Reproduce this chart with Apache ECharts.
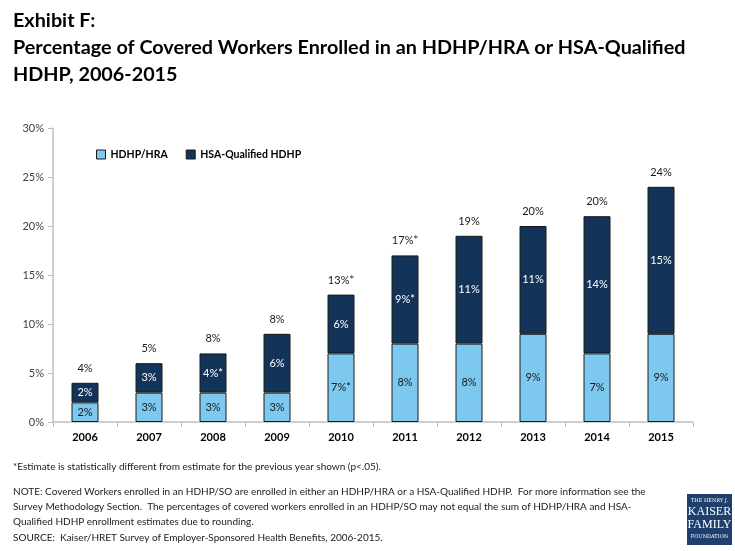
<!DOCTYPE html>
<html>
<head>
<meta charset="utf-8">
<script src="https://cdn.jsdelivr.net/npm/echarts@6/dist/echarts.min.js"></script>
<style>
  html, body { margin: 0; padding: 0; background: #fff; }
  #chart { width: 735px; height: 551px; }
</style>
</head>
<body>
<div id="chart"></div>
<script>
// Data read from the exhibit
const years = ['2006', '2007', '2008', '2009', '2010', '2011', '2012', '2013', '2014', '2015'];
const hdhpHra = [2, 3, 3, 3, 7, 8, 8, 9, 7, 9];
const hsaQualified = [2, 3, 4, 6, 6, 9, 11, 11, 14, 15];
const hdhpHraLabels = ['2%', '3%', '3%', '3%', '7%*', '8%', '8%', '9%', '7%', '9%'];
const hsaLabels = ['2%', '3%', '4%*', '6%', '6%', '9%*', '11%', '11%', '14%', '15%'];
const totalLabels = ['4%', '5%', '8%', '8%', '13%*', '17%*', '19%', '20%', '20%', '24%'];
const yTicks = [0, 5, 10, 15, 20, 25, 30];

const FONT = 'Lato, "Open Sans", sans-serif';
const LIGHT = '#7DC8EE';
const NAVY = '#133459';
const AXIS = '#BFBFBF';

const chart = echarts.init(document.getElementById('chart'));

chart.setOption({
  animation: false,
  textStyle: { fontFamily: FONT },
  title: [
    {
      text: 'Exhibit F:\nPercentage of Covered Workers Enrolled in an HDHP/HRA or HSA-Qualified\nHDHP, 2006-2015',
      left: 8,
      top: 2,
      textStyle: { fontSize: 19.8, fontWeight: 'bold', color: '#000', lineHeight: 27, fontFamily: FONT }
    },
    {
      text: '*Estimate is statistically different from estimate for the previous year shown (p<.05).',
      left: 8,
      top: 457,
      textStyle: { fontSize: 10, fontWeight: 'normal', color: '#1a1a1a', fontFamily: FONT }
    },
    {
      text: 'NOTE: Covered Workers enrolled in an HDHP/SO are enrolled in either an HDHP/HRA or a HSA-Qualified HDHP.  For more information see the\n' +
        'Survey Methodology Section.  The percentages of covered workers enrolled in an HDHP/SO may not equal the sum of HDHP/HRA and HSA-\n' +
        'Qualified HDHP enrollment estimates due to rounding.',
      left: 8,
      top: 479,
      textStyle: { fontSize: 10, fontWeight: 'normal', color: '#1a1a1a', lineHeight: 15, fontFamily: FONT }
    },
    {
      text: 'SOURCE:  Kaiser/HRET Survey of Employer-Sponsored Health Benefits, 2006-2015.',
      left: 8,
      top: 528,
      textStyle: { fontSize: 10, fontWeight: 'normal', color: '#1a1a1a', fontFamily: FONT }
    }
  ],
  graphic: [
    {
      type: 'group',
      left: 687,
      top: 494,
      children: [
        { type: 'rect', shape: { x: 0, y: 0, width: 45, height: 51 }, style: { fill: '#1F3F6E' } },
        { type: 'text', x: 22.5, y: 4, style: { text: 'THE HENRY J.', fill: '#fff', font: '5px "DejaVu Serif", serif', align: 'center' } },
        { type: 'text', x: 22.5, y: 12, style: { text: 'KAISER', fill: '#fff', font: '12px "Liberation Serif", serif', align: 'center' } },
        { type: 'text', x: 22.5, y: 25, style: { text: 'FAMILY', fill: '#fff', font: '12px "Liberation Serif", serif', align: 'center' } },
        { type: 'text', x: 22.5, y: 40, style: { text: 'FOUNDATION', fill: '#fff', font: '5px "DejaVu Serif", serif', align: 'center' } }
      ]
    }
  ],
  legend: {
    left: 91,
    top: 144,
    icon: 'rect',
    itemWidth: 9,
    itemHeight: 9,
    itemGap: 18,
    textStyle: { fontSize: 10.5, fontWeight: 'bold', color: '#000', fontFamily: FONT },
    data: [
      { name: 'HDHP/HRA', itemStyle: { borderColor: '#1a1a1a', borderWidth: 1 } },
      { name: 'HSA-Qualified HDHP', itemStyle: { borderColor: '#1a1a1a', borderWidth: 1 } }
    ]
  },
  grid: { left: 53, right: 42, top: 128, bottom: 129, containLabel: false },
  xAxis: {
    type: 'category',
    data: years,
    axisLine: { lineStyle: { color: AXIS, width: 1.5 } },
    axisTick: { show: true, alignWithLabel: false, length: 5, lineStyle: { color: AXIS } },
    axisLabel: { fontSize: 11, fontWeight: 'bold', color: '#000', margin: 10 }
  },
  yAxis: {
    type: 'value',
    min: 0,
    max: 30,
    interval: 5,
    splitLine: { show: false },
    axisLine: { show: true, lineStyle: { color: AXIS, width: 1.5 } },
    axisTick: { show: true, inside: false, length: 5, lineStyle: { color: AXIS } },
    axisLabel: {
      fontSize: 11,
      color: '#404040',
      margin: 9,
      formatter: v => (yTicks.includes(v) ? v + '%' : '')
    }
  },
  series: [
    {
      name: 'HDHP/HRA',
      type: 'bar',
      stack: 'total',
      barWidth: 27,
      data: hdhpHra,
      itemStyle: { color: LIGHT, borderColor: '#1a1a1a', borderWidth: 1 },
      label: {
        show: true,
        position: 'inside',
        fontSize: 11,
        color: '#1a1a1a',
        formatter: p => hdhpHraLabels[p.dataIndex]
      }
    },
    {
      name: 'HSA-Qualified HDHP',
      type: 'bar',
      stack: 'total',
      barWidth: 27,
      data: hsaQualified,
      itemStyle: { color: NAVY, borderColor: '#1a1a1a', borderWidth: 1 },
      label: {
        show: true,
        position: 'inside',
        fontSize: 11,
        color: '#fff',
        formatter: p => hsaLabels[p.dataIndex]
      }
    },
    {
      // invisible carrier for the total labels above each stack
      name: 'total',
      type: 'bar',
      stack: 'total',
      barWidth: 27,
      data: years.map(() => 0),
      itemStyle: { color: 'transparent' },
      label: {
        show: true,
        position: 'top',
        distance: 9,
        fontSize: 11,
        color: '#1a1a1a',
        formatter: p => totalLabels[p.dataIndex]
      },
      tooltip: { show: false }
    }
  ]
});
</script>
</body>
</html>
